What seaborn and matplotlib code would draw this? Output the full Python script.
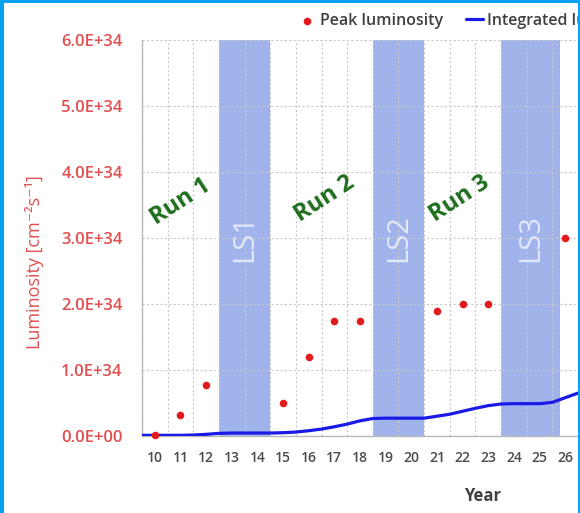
import numpy as np
import pandas as pd
import seaborn as sns
import matplotlib.pyplot as plt
from matplotlib.patches import Rectangle
from matplotlib.ticker import FuncFormatter, FixedLocator

# ---------------- data ----------------
years = list(range(10, 27))
year_labels = [str(y) for y in years]

peak_years = [10, 11, 12, 15, 16, 17, 18, 21, 22, 23, 26]
peak_lumi_e34 = [0.02, 0.32, 0.77, 0.50, 1.20, 1.74, 1.74, 1.90, 2.00, 2.00, 3.00]

integ_x = [9.5, 10, 10.5, 11, 11.5, 12, 12.5, 13, 13.5, 14, 14.5, 15, 15.5, 16,
           16.5, 17, 17.5, 18, 18.5, 19, 19.5, 20, 20.5, 21, 21.5, 22, 22.5, 23,
           23.5, 24, 24.5, 25, 25.5, 26, 26.5]
integ_scaled_e34 = [0.01, 0.01, 0.01, 0.01, 0.015, 0.025, 0.04, 0.045, 0.045, 0.045,
                    0.045, 0.05, 0.06, 0.08, 0.105, 0.14, 0.18, 0.23, 0.265, 0.27,
                    0.27, 0.27, 0.27, 0.30, 0.33, 0.375, 0.42, 0.46, 0.485, 0.49,
                    0.49, 0.49, 0.51, 0.58, 0.65]

ls_names = ["LS1", "LS2", "LS3"]
ls_start = [12.5, 18.5, 23.5]
ls_end = [14.5, 20.5, 25.8]

run_names = ["Run 1", "Run 2", "Run 3"]
run_x = [11.02, 16.6, 21.9]
run_y_e34 = [3.55, 3.59, 3.59]

y_ticks_e34 = [0, 1, 2, 3, 4, 5, 6]

peak_df = pd.DataFrame({"year": peak_years,
                        "lumi": np.array(peak_lumi_e34) * 1e34})
integ_df = pd.DataFrame({"x": integ_x,
                         "lumi": np.array(integ_scaled_e34) * 1e34})

# ---------------- style ----------------
sns.set_style("white")
plt.rcParams["font.family"] = ["Open Sans", "DejaVu Sans"]

RED_TXT = "#e05050"
DOT_RED = "#e31a1c"
LINE_BLUE = "#1a1ae6"
BAND = "#a0b4eb"
GREEN = "#1e6e1e"
GRID = "#c8c8c8"
FRAME = "#08a2f2"

W, H = 580, 513
fig = plt.figure(figsize=(W / 100, H / 100), dpi=100)
ax = fig.add_axes([142 / W, 77 / H, 436 / W, 396 / H])

# long shutdown bands
for name, a, b in zip(ls_names, ls_start, ls_end):
    ax.axvspan(a, b, color=BAND, lw=0, zorder=0.2)
    ax.text((a + b) / 2, 3.0e34, name, rotation=90, ha="center", va="center",
            fontsize=21, color="white", alpha=0.7, zorder=1)

sns.lineplot(data=integ_df, x="x", y="lumi", ax=ax, color=LINE_BLUE, lw=2.3,
             label="Integrated luminosity", zorder=3)
sns.scatterplot(data=peak_df, x="year", y="lumi", ax=ax, color=DOT_RED, s=30,
                linewidth=0, label="Peak luminosity", zorder=4, clip_on=False)

for name, x, y in zip(run_names, run_x, run_y_e34):
    ax.text(x, y * 1e34, name, rotation=33, ha="center", va="center",
            rotation_mode="anchor", fontsize=17, fontweight="bold", color=GREEN,
            zorder=5)

ax.set_xlim(9.5, 26.5)
ax.set_ylim(0, 6e34)

ax.xaxis.set_major_locator(FixedLocator(years))
ax.set_xticklabels(year_labels)
ax.xaxis.set_minor_locator(FixedLocator([y + 0.5 for y in [9] + years]))
ax.yaxis.set_major_locator(FixedLocator([v * 1e34 for v in y_ticks_e34]))
ax.yaxis.set_major_formatter(FuncFormatter(lambda v, p: f"{v:.1E}"))

ax.set_axisbelow(True)
ax.grid(False)
ax.grid(which="major", axis="y", color=GRID, lw=0.8, ls=(0, (2, 2)), zorder=0.5)
ax.grid(which="minor", axis="x", color=GRID, lw=0.8, ls=(0, (2, 2)), zorder=0.5)

for s in ["top", "right"]:
    ax.spines[s].set_visible(False)
for s in ["left", "bottom"]:
    ax.spines[s].set_color("#b8b8b8")
    ax.spines[s].set_linewidth(1.0)
    ax.spines[s].set_zorder(2)

ax.tick_params(axis="x", which="major", length=0, pad=11, labelsize=10,
               labelcolor="#4a4a4a")
ax.tick_params(axis="x", which="minor", length=3.6, width=0.8, color="#b8b8b8",
               direction="out")
ax.tick_params(axis="y", which="major", length=3, width=0.8, color="#b8b8b8",
               pad=11, labelsize=12, labelcolor=RED_TXT, direction="out")
for t in ax.get_xticklabels():
    t.set_fontweight("semibold")
for t in ax.get_yticklabels():
    t.set_fontweight("semibold")

ax.set_xlabel("Year", fontsize=12, fontweight="bold", color="#404040")
ax.xaxis.set_label_coords(0.782, -0.128)
ax.set_ylabel("Luminosity [cm⁻²s⁻¹]", fontsize=13, color=RED_TXT)
ax.yaxis.set_label_coords(-0.225, 0.44)

handles, labels = ax.get_legend_handles_labels()
order = [labels.index("Peak luminosity"), labels.index("Integrated luminosity")]
leg = ax.legend([handles[i] for i in order], [labels[i] for i in order],
                loc="upper left", bbox_to_anchor=(298 / W, 1 - 13 / H),
                bbox_transform=fig.transFigure, ncol=2, frameon=False,
                fontsize=11.5, handlelength=1.1, handletextpad=0.25,
                columnspacing=1.45, borderpad=0, borderaxespad=0)
for t in leg.get_texts():
    t.set_color("#404040")
    t.set_fontweight("semibold")

# blue frame
fig.add_artist(Rectangle((0, 0), 4 / W, 1, transform=fig.transFigure,
                         color=FRAME, lw=0, zorder=20))
fig.add_artist(Rectangle((0, 1 - 3 / H), 1, 3 / H, transform=fig.transFigure,
                         color=FRAME, lw=0, zorder=20))
fig.add_artist(Rectangle((1 - 2.5 / W, 0), 2.5 / W, 1, transform=fig.transFigure,
                         color=FRAME, lw=0, zorder=20))

fig.savefig("out.png", dpi=100, facecolor="white")
